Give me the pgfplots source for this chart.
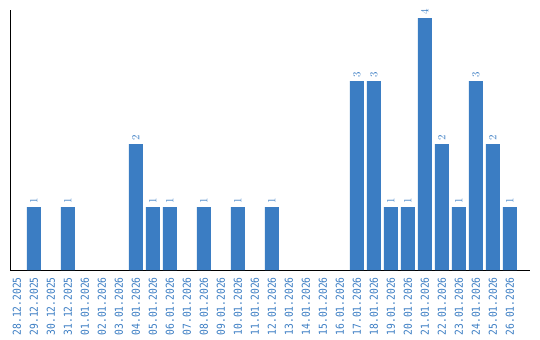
\documentclass[border=0pt]{standalone}
\usepackage{pgfplots}
\pgfplotsset{compat=1.18}
\usepackage{fontspec}
\setmainfont[FakeStretch=0.88]{DejaVu Sans Mono}
\definecolor{barblue}{HTML}{3B7DC3}
\begin{document}
\begin{tikzpicture}
\begin{axis}[
  scale only axis,
  width=520bp, height=260bp,
  xmin=-0.41, xmax=30.18,
  ymin=0, ymax=4.13,
  axis x line=bottom, axis y line=left,
  axis line style={-, black, line width=1bp},
  ytick=\empty,
  xtick={0,...,29},
  major tick length=0pt,
  xticklabels={28.12.2025,29.12.2025,30.12.2025,31.12.2025,01.01.2026,02.01.2026,03.01.2026,04.01.2026,05.01.2026,06.01.2026,07.01.2026,08.01.2026,09.01.2026,10.01.2026,11.01.2026,12.01.2026,13.01.2026,14.01.2026,15.01.2026,16.01.2026,17.01.2026,18.01.2026,19.01.2026,20.01.2026,21.01.2026,22.01.2026,23.01.2026,24.01.2026,25.01.2026,26.01.2026},
  xticklabel style={rotate=90, anchor=east, font=\fontsize{11}{12}\selectfont, text=barblue, inner sep=0pt},
  xtick style={draw=none},
  xticklabel shift=7bp,
  clip=false,
  nodes near coords style={font=\fontsize{11}{12}\selectfont, text=barblue},
]
\addplot[ybar, bar width=14bp, fill=barblue, draw=none,
  nodes near coords={\fontsize{11}{12}\selectfont\pgfmathprintnumber{\pgfplotspointmeta}},
  every node near coord/.append style={rotate=90, anchor=west, text=barblue, inner sep=0pt, xshift=3bp},
  ] coordinates {
(1,1) (3,1) (7,2) (8,1) (9,1)
(11,1) (13,1) (15,1)
(20,3) (21,3) (22,1) (23,1) (24,4) (25,2) (26,1) (27,3) (28,2) (29,1)
};
\end{axis}
\pgfresetboundingbox
\path (current axis.south west) ++(-10bp,-70bp) coordinate (bl);
\path (current axis.north east) ++(10bp,10bp) coordinate (tr);
\path (bl) rectangle (tr);
\end{tikzpicture}
\end{document}
